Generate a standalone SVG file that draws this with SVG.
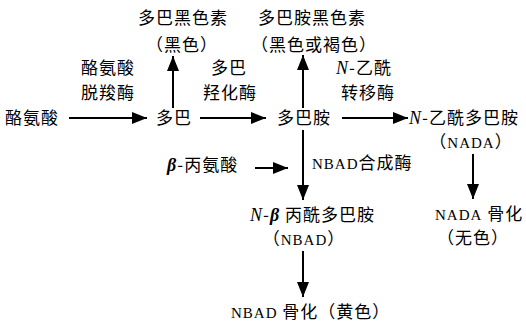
<svg xmlns="http://www.w3.org/2000/svg" width="526" height="328" viewBox="0 0 526 328">
<defs>
<marker id="ah" markerUnits="userSpaceOnUse" markerWidth="16" markerHeight="12" refX="15" refY="6" orient="auto">
<path d="M0,0 L15,6 L0,12 Z" fill="#000"/>
</marker>
<style>
.t{font-family:"Noto Sans CJK SC","Noto Sans",sans-serif;font-size:17px;fill:#000;letter-spacing:1px}
.m{text-anchor:middle}
.n{font-family:"Liberation Serif",serif;font-style:italic;font-size:18px}
.b{font-family:"Liberation Serif",serif;font-style:italic;font-weight:bold;font-size:18px}
.a{font-family:"Liberation Serif",serif;font-size:15px}
.c{stroke:#000;stroke-width:2;fill:none;marker-end:url(#ah)}
</style>
</defs>
<g id="connectors">
<line class="c" x1="69" y1="118" x2="147" y2="118"/>
<line class="c" x1="200" y1="118" x2="266" y2="118"/>
<line class="c" x1="342" y1="118" x2="408" y2="118"/>
<line class="c" x1="173" y1="108" x2="173" y2="56"/>
<line class="c" x1="303" y1="108" x2="303" y2="55"/>
<line class="c" x1="303" y1="130" x2="303" y2="200"/>
<line class="c" x1="255" y1="168" x2="288" y2="168"/>
<line class="c" x1="473" y1="154" x2="473" y2="199"/>
<line class="c" x1="303" y1="251" x2="303" y2="297"/>
</g>
<g id="tyrosine"><text class="t" x="5" y="124">酪氨酸</text></g>
<g id="enzyme1"><text class="t m" x="108" y="74">酪氨酸</text><text class="t m" x="108" y="99">脱羧酶</text></g>
<g id="dopa"><text class="t" x="156" y="124">多巴</text></g>
<g id="dopa-melanin"><text class="t m" x="183" y="24">多巴黑色素</text><text class="t m" x="182" y="51">（黑色）</text></g>
<g id="enzyme2"><text class="t m" x="229" y="74">多巴</text><text class="t m" x="230" y="99">羟化酶</text></g>
<g id="dopamine"><text class="t" x="277" y="124">多巴胺</text></g>
<g id="dopamine-melanin"><text class="t m" x="312" y="24">多巴胺黑色素</text><text class="t m" x="314" y="51">（黑色或褐色）</text></g>
<g id="enzyme3"><text class="t" x="336" y="74"><tspan class="n">N</tspan>-乙酰</text><text class="t m" x="368" y="99">转移酶</text></g>
<g id="nada"><text class="t" x="409" y="124"><tspan class="n">N</tspan>-乙酰多巴胺</text><text class="t m" x="471" y="148">（<tspan class="a">NADA</tspan>）</text></g>
<g id="nada-scler"><text class="t" x="435" y="220"><tspan class="a">NADA</tspan> 骨化</text><text class="t m" x="473" y="244">（无色）</text></g>
<g id="balanine"><text class="t" x="167" y="171"><tspan class="b">β</tspan>-丙氨酸</text></g>
<g id="enzyme4"><text class="t" x="312" y="169"><tspan class="a">NBAD</tspan>合成酶</text></g>
<g id="nbad"><text class="t" x="250" y="221"><tspan class="n">N</tspan>-<tspan class="b">β</tspan> 丙酰多巴胺</text><text class="t m" x="304" y="245">（<tspan class="a">NBAD</tspan>）</text></g>
<g id="nbad-scler"><text class="t" x="231" y="318"><tspan class="a">NBAD</tspan> 骨化（黄色）</text></g>
</svg>
